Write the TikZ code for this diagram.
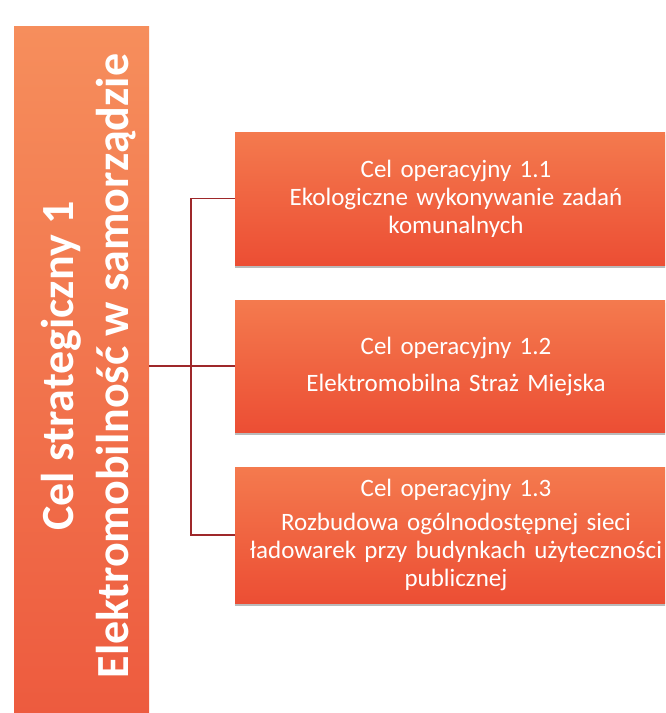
\documentclass[tikz,border=0pt]{standalone}
\usepackage{fontspec}
\setmainfont{Carlito}
\usetikzlibrary{shadows}
\definecolor{lightor}{RGB}{246,142,92}
\definecolor{darkor}{RGB}{237,90,62}
\definecolor{boxtop}{RGB}{244,122,78}
\definecolor{boxbot}{RGB}{236,78,52}
\definecolor{conn}{RGB}{158,40,42}
\begin{document}
\begin{tikzpicture}[x=1pt,y=-1pt,
  goalbox/.style={draw=none, top color=boxtop, bottom color=boxbot,
    minimum width=442pt, text width=430pt, align=center, text=white,
    font=\fontsize{25}{28}\selectfont, inner sep=0pt,
    drop shadow={shadow xshift=0pt,shadow yshift=-2.5pt,opacity=0.45,fill=black!60}},
  vtext/.style={rotate=90, anchor=base, text=white, font=\bfseries\fontsize{46}{55}\selectfont},
  link/.style={draw=conn, line width=1.4pt}]
\useasboundingbox (0,0) rectangle (665,713);
\clip (0,0) rectangle (665,713);
\fill[white] (0,0) rectangle (665,713);
\node[top color=lightor, bottom color=darkor, minimum width=135pt, minimum height=700pt,
  inner sep=0pt, anchor=north west] (L) at (14,26) {};
\node[vtext] (t1) at (73,366) {Cel strategiczny 1};
\node[vtext] (t2) at (128,366) {Elektromobilność w samorządzie};
\node[goalbox, minimum height=133pt] (b1) at (456,198.5)
  {Cel operacyjny 1.1\\Ekologiczne wykonywanie zadań\\komunalnych};
\node[goalbox, minimum height=132pt] (b2) at (456,366)
  {Cel operacyjny 1.2\\[9pt]Elektromobilna Straż Miejska};
\node[goalbox, minimum height=136pt] (b3) at (456,535)
  {Cel operacyjny 1.3\\[6pt]Rozbudowa ogólnodostępnej sieci\\ładowarek przy budynkach użyteczności\\publicznej};
\coordinate (j) at (191,366);
\draw[link] (b1.west) -- (b1.west -| j) -- (b3.west -| j) -- (b3.west);
\draw[link] (L.east |- b2.west) -- (b2.west);
\end{tikzpicture}
\end{document}
